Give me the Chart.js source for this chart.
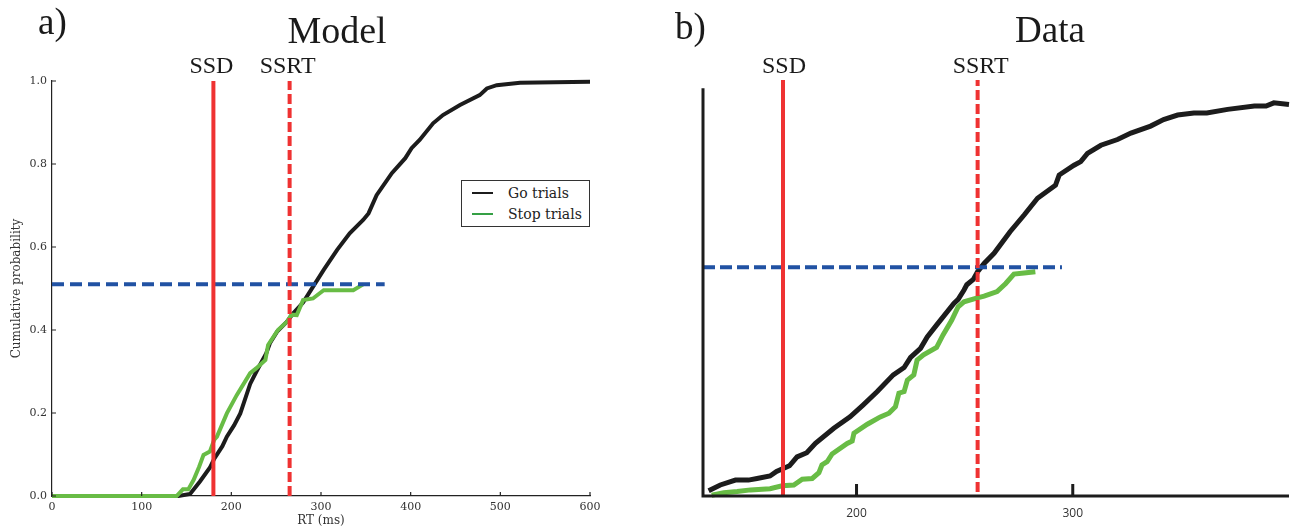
<!DOCTYPE html>
<html>
<head>
<meta charset="utf-8">
<script src="https://cdn.jsdelivr.net/npm/chart.js@4.4.1/dist/chart.umd.min.js"></script>
<style>
  html, body { margin: 0; padding: 0; background: #fff; }
  body { width: 1293px; height: 531px; position: relative; overflow: hidden; }
  #chartA { position: absolute; left: 0; top: 0; }
  #chartB { position: absolute; left: 646px; top: 0; }
  .legend {
    position: absolute; left: 461px; top: 180px; width: 127px; height: 45px;
    border: 1px solid #333; background: #fff;
    font-family: "DejaVu Serif", serif; font-size: 14px; color: #222;
  }
  .legend .row { position: absolute; left: 0; height: 20px; line-height: 20px; }
  .legend .swatch { position: absolute; left: 10px; top: 9px; width: 21px; height: 2px; }
  .legend .txt { position: absolute; left: 46px; top: 0; white-space: nowrap; }
</style>
</head>
<body>
<canvas id="chartA" width="646" height="531"></canvas>
<canvas id="chartB" width="647" height="531"></canvas>
<div class="legend">
  <div class="row" style="top:2px"><span class="swatch" style="background:#1c1c1c"></span><span class="txt">Go trials</span></div>
  <div class="row" style="top:23px"><span class="swatch" style="background:#35a045"></span><span class="txt">Stop trials</span></div>
</div>
<script>
// ---- panel a) Model ----
const modelGoRT = [0, 141, 154, 165, 176, 181, 190, 195, 203, 210, 221, 228, 239, 243, 251, 262, 269, 280, 291, 303, 318, 332, 347, 353, 362, 379, 394, 401, 410, 425, 436, 455, 477, 485, 496, 522, 600];
const modelGoP  = [0, 0, 0.005, 0.035, 0.068, 0.09, 0.12, 0.143, 0.17, 0.199, 0.27, 0.30, 0.344, 0.368, 0.396, 0.42, 0.44, 0.466, 0.504, 0.545, 0.593, 0.633, 0.665, 0.681, 0.725, 0.778, 0.814, 0.838, 0.858, 0.898, 0.918, 0.942, 0.966, 0.982, 0.99, 0.996, 0.998];
const modelStopRT = [0, 139, 146, 152, 158, 164, 169, 176, 181, 184, 195, 206, 221, 228, 238, 241, 252, 262, 267, 273, 280, 291, 303, 336, 347];
const modelStopP  = [0, 0, 0.016, 0.016, 0.039, 0.07, 0.099, 0.107, 0.136, 0.143, 0.199, 0.243, 0.296, 0.308, 0.328, 0.364, 0.40, 0.42, 0.437, 0.436, 0.472, 0.476, 0.496, 0.496, 0.51];
const modelSSD = 180;
const modelSSRT = 265;
const modelP = 0.51;
const modelPRange = [0, 371];
const modelXTicks = [0, 100, 200, 300, 400, 500, 600];
const modelYTicks = [0, 0.2, 0.4, 0.6, 0.8, 1.0];

// ---- panel b) Data ----
const dataGoRT = [131.6, 137, 144, 150, 154, 160, 163, 169, 172.5, 177, 181, 189.5, 197, 203, 209.6, 217, 222, 225, 229.6, 232.7, 237, 245, 247, 249.7, 251, 254, 256, 259, 263.6, 271, 277.5, 283.7, 292, 293.7, 300.6, 303.7, 306.8, 313, 320.7, 326.9, 336, 342, 348.5, 356, 362, 371.6, 384, 389.4, 393, 400];
const dataGoP  = [0.013, 0.027, 0.039, 0.039, 0.043, 0.049, 0.06, 0.074, 0.096, 0.106, 0.129, 0.166, 0.194, 0.223, 0.256, 0.297, 0.315, 0.34, 0.362, 0.39, 0.419, 0.472, 0.482, 0.505, 0.518, 0.531, 0.55, 0.57, 0.595, 0.648, 0.689, 0.73, 0.762, 0.787, 0.811, 0.82, 0.84, 0.86, 0.874, 0.89, 0.907, 0.923, 0.934, 0.939, 0.939, 0.948, 0.956, 0.956, 0.964, 0.96];
const dataStopRT = [133, 138.6, 144.8, 151, 160, 165.6, 171, 174.9, 179.5, 182.6, 184, 186.4, 188.7, 195.7, 198, 198.8, 205, 211, 215, 218, 219.6, 222, 223.5, 226.5, 228, 231, 237, 240, 244, 247, 249.7, 255.9, 259, 265, 269, 272.8, 277.5, 282.7];
const dataStopP  = [0.002, 0.008, 0.011, 0.015, 0.018, 0.025, 0.027, 0.041, 0.043, 0.057, 0.076, 0.084, 0.103, 0.129, 0.135, 0.154, 0.176, 0.194, 0.203, 0.219, 0.252, 0.256, 0.284, 0.297, 0.333, 0.346, 0.364, 0.395, 0.431, 0.464, 0.476, 0.486, 0.49, 0.501, 0.521, 0.544, 0.547, 0.55];
const dataSSD = 166;
const dataSSRT = 256;
const dataP = 0.561;
const dataPRange = [129, 295];
const dataXTicks = [200, 300];

const BLACK = '#1c1c1c', GREEN = '#68bc45', RED = '#ef3232', BLUE = '#2152a3';
const serif = '"Liberation Serif", "Times New Roman", serif';

const pts = (xs, ys) => xs.map((x, i) => ({ x, y: ys[i] }));

function lineSet(data, color, width, dash) {
  return {
    data, borderColor: color, borderWidth: width, borderDash: dash || [],
    pointRadius: 0, tension: 0, fill: false, clip: false, borderCapStyle: 'butt'
  };
}

// text drawn on top of each panel
function textPlugin(items) {
  return {
    id: 'texts',
    afterDraw(chart) {
      const ctx = chart.ctx;
      ctx.save();
      ctx.fillStyle = '#1a1a1a';
      ctx.textBaseline = 'alphabetic';
      items.forEach(t => {
        ctx.font = t.size + 'px ' + serif;
        ctx.textAlign = t.align || 'center';
        const x = t.value !== undefined ? chart.scales.x.getPixelForValue(t.value) + (t.dx || 0) : t.x;
        ctx.fillText(t.text, x, t.y);
      });
      ctx.restore();
    }
  };
}

// small inward ticks for panel a
const innerTicksA = {
  id: 'innerTicksA',
  afterDraw(chart) {
    const { ctx, scales: { x, y } } = chart;
    ctx.save();
    ctx.strokeStyle = '#222';
    ctx.lineWidth = 1.2;
    ctx.beginPath();
    const y0 = y.getPixelForValue(0), x0 = x.getPixelForValue(0);
    modelXTicks.forEach(v => { const px = x.getPixelForValue(v); ctx.moveTo(px, y0); ctx.lineTo(px, y0 - 4); });
    modelYTicks.forEach(v => { const py = y.getPixelForValue(v); ctx.moveTo(x0, py); ctx.lineTo(x0 + 4, py); });
    ctx.stroke();
    ctx.restore();
  }
};

// thick axes with long inward ticks for panel b
const axesB = {
  id: 'axesB',
  afterDraw(chart) {
    const { ctx, chartArea, scales: { x, y } } = chart;
    const y0 = y.getPixelForValue(0);
    ctx.save();
    ctx.strokeStyle = BLACK;
    ctx.lineWidth = 3;
    ctx.beginPath();
    ctx.moveTo(chartArea.left, y.getPixelForValue(1));
    ctx.lineTo(chartArea.left, y0);
    ctx.lineTo(chartArea.right, y0);
    dataXTicks.forEach(v => { const px = x.getPixelForValue(v); ctx.moveTo(px, y0); ctx.lineTo(px, y0 - 12); });
    ctx.stroke();
    ctx.restore();
  }
};

const smallFont = { family: '"DejaVu Serif", serif', size: 11 };
const titleFont = { family: '"DejaVu Serif", serif', size: 12 };

new Chart(document.getElementById('chartA'), {
  type: 'line',
  data: {
    datasets: [
      lineSet([{ x: modelSSD, y: 0 }, { x: modelSSD, y: 1 }], RED, 4),
      lineSet([{ x: modelSSRT, y: 0 }, { x: modelSSRT, y: 1 }], RED, 4, [10, 4]),
      lineSet([{ x: modelPRange[0], y: modelP }, { x: modelPRange[1], y: modelP }], BLUE, 4, [12, 6]),
      lineSet(pts(modelStopRT, modelStopP), GREEN, 4),
      lineSet(pts(modelGoRT, modelGoP), BLACK, 4)
    ]
  },
  options: {
    responsive: false,
    animation: false,
    events: [],
    layout: { padding: { left: 0, right: 56, top: 81, bottom: 0 }, autoPadding: false },
    plugins: { legend: { display: false }, tooltip: { enabled: false } },
    scales: {
      x: {
        type: 'linear', min: 0, max: 600,
        afterBuildTicks: s => { s.ticks = modelXTicks.map(v => ({ value: v })); },
        afterFit: s => { s.height = 35; },
        ticks: { font: smallFont, color: '#333', padding: 5, maxRotation: 0 },
        grid: { drawOnChartArea: false, drawTicks: false },
        border: { color: '#222', width: 1.2 },
        title: { display: true, text: 'RT (ms)', font: titleFont, color: '#333', padding: { top: 0, bottom: 3 } }
      },
      y: {
        min: 0, max: 1,
        afterBuildTicks: s => { s.ticks = modelYTicks.map(v => ({ value: v })); },
        afterFit: s => { s.width = 52; },
        ticks: { font: smallFont, color: '#333', padding: 5, callback: v => v.toFixed(1) },
        grid: { drawOnChartArea: false, drawTicks: false },
        border: { color: '#222', width: 1.2 },
        title: { display: true, text: 'Cumulative probability', font: titleFont, color: '#333', padding: { top: 10, bottom: 0 } }
      }
    }
  },
  plugins: [innerTicksA, textPlugin([
    { text: 'a)', x: 38, y: 34, size: 37, align: 'left' },
    { text: 'Model', x: 337, y: 43, size: 38 },
    { text: 'SSD', value: modelSSD, dx: -2, y: 73, size: 24 },
    { text: 'SSRT', value: modelSSRT, dx: -2, y: 73, size: 24 }
  ])]
});

new Chart(document.getElementById('chartB'), {
  type: 'line',
  data: {
    datasets: [
      lineSet([{ x: dataSSD, y: 0 }, { x: dataSSD, y: 1.02 }], RED, 4),
      lineSet([{ x: dataSSRT, y: 0.01 }, { x: dataSSRT, y: 1.02 }], RED, 4, [10, 4]),
      lineSet([{ x: dataPRange[0], y: dataP }, { x: dataPRange[1], y: dataP }], BLUE, 4, [12, 5]),
      lineSet(pts(dataStopRT, dataStopP), GREEN, 5),
      lineSet(pts(dataGoRT, dataGoP), BLACK, 5)
    ]
  },
  options: {
    responsive: false,
    animation: false,
    events: [],
    layout: { padding: { left: 57, right: 4, top: 80, bottom: 0 }, autoPadding: false },
    plugins: { legend: { display: false }, tooltip: { enabled: false } },
    scales: {
      x: {
        type: 'linear', min: 129, max: 400,
        afterBuildTicks: s => { s.ticks = dataXTicks.map(v => ({ value: v })); },
        afterFit: s => { s.height = 35; },
        ticks: { font: { family: '"Open Sans", sans-serif', size: 12 }, color: '#333', padding: 10, maxRotation: 0 },
        grid: { drawOnChartArea: false, drawTicks: false },
        border: { display: false }
      },
      y: { display: false, min: 0, max: 1.02 }
    }
  },
  plugins: [axesB, textPlugin([
    { text: 'b)', x: 29, y: 39, size: 37, align: 'left' },
    { text: 'Data', x: 404, y: 42, size: 37 },
    { text: 'SSD', value: dataSSD, dx: 1, y: 73, size: 24 },
    { text: 'SSRT', value: dataSSRT, dx: 3, y: 73, size: 24 }
  ])]
});
</script>
</body>
</html>
